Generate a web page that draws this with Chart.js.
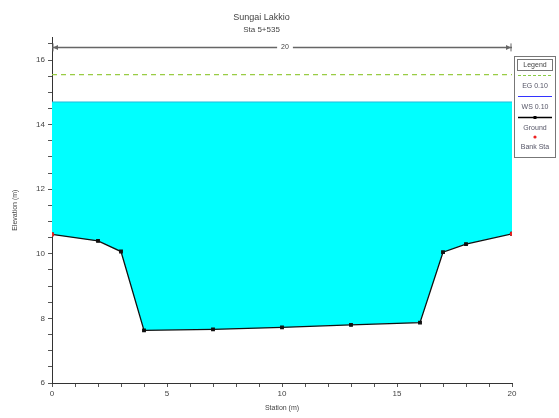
<!DOCTYPE html>
<html>
<head>
<meta charset="utf-8">
<script src="https://cdn.jsdelivr.net/npm/chart.js@4/dist/chart.umd.min.js"></script>
<style>
html,body{margin:0;padding:0;background:#fff;}
#wrap{position:relative;width:559px;height:418px;}
</style>
</head>
<body>
<div id="wrap"><canvas id="c" width="559" height="418"></canvas></div>
<script>
// ---- data ----
const titleText = 'Sungai Lakkio';
const subtitleText = 'Sta 5+535';
const stations = [0, 2, 3, 4, 7, 10, 13, 16, 17, 18, 20];
const groundElev = [10.6, 10.4, 10.07, 7.63, 7.66, 7.72, 7.8, 7.87, 10.05, 10.3, 10.62];
const bankStations = [0, 20];
const wsElev = 14.7;
const egElev = 15.55;
const topWidthLabel = '20';
const yTicks = [6, 8, 10, 12, 14, 16];
const xTicks = [0, 5, 10, 15, 20];
const legendLabels = ['EG 0.10', 'WS 0.10', 'Ground', 'Bank Sta'];

const FONT = 'Liberation Sans, Arial, sans-serif';
const TXT = '#444';

const groundPts = stations.map((x, i) => ({x, y: groundElev[i]}));
const wsPts = stations.map(x => ({x, y: wsElev}));
const egPts = [{x: stations[0], y: egElev}, {x: stations[stations.length - 1], y: egElev}];
const bankPts = bankStations.map(x => ({x, y: groundElev[stations.indexOf(x)]}));

const dimPlugin = {
  id: 'dim',
  afterDatasetsDraw(chart) {
    const {ctx, chartArea, scales: {x}} = chart;
    const x0 = x.getPixelForValue(stations[0]);
    const x1 = x.getPixelForValue(stations[stations.length - 1]);
    const y = chartArea.top + 10;
    ctx.save();
    ctx.strokeStyle = '#666';
    ctx.fillStyle = '#666';
    ctx.lineWidth = 1.5;
    ctx.beginPath(); ctx.moveTo(x0, y); ctx.lineTo(x1, y); ctx.stroke();
    ctx.lineWidth = 1;
    ctx.beginPath(); ctx.moveTo(x0 + 1, y - 4); ctx.lineTo(x0 + 1, y + 4); ctx.stroke();
    ctx.beginPath(); ctx.moveTo(x1 - 1, y - 4); ctx.lineTo(x1 - 1, y + 4); ctx.stroke();
    ctx.beginPath(); ctx.moveTo(x0 + 1, y); ctx.lineTo(x0 + 6, y - 2.5); ctx.lineTo(x0 + 6, y + 2.5); ctx.closePath(); ctx.fill();
    ctx.beginPath(); ctx.moveTo(x1 - 1, y); ctx.lineTo(x1 - 6, y - 2.5); ctx.lineTo(x1 - 6, y + 2.5); ctx.closePath(); ctx.fill();
    const cx = (x0 + x1) / 2 + 3;
    ctx.font = '7px ' + FONT;
    const w = ctx.measureText(topWidthLabel).width + 8;
    ctx.fillStyle = '#fff';
    ctx.fillRect(cx - w / 2, y - 5, w, 10);
    ctx.fillStyle = TXT;
    ctx.textAlign = 'center'; ctx.textBaseline = 'middle';
    ctx.fillText(topWidthLabel, cx, y);
    ctx.restore();
  }
};

const legendPlugin = {
  id: 'sideLegend',
  afterDraw(chart) {
    const ctx = chart.ctx;
    const L = 514, R = 556, T = 56, B = 158;
    const cx = (L + R) / 2;
    ctx.save();
    ctx.fillStyle = '#fff';
    ctx.fillRect(L, T, R - L, B - T);
    ctx.strokeStyle = '#777'; ctx.lineWidth = 1;
    ctx.strokeRect(L + 0.5, T + 0.5, R - L - 1, B - T - 1);
    ctx.strokeRect(L + 3.5, T + 3.5, R - L - 7, 11);
    ctx.font = '7px ' + FONT;
    ctx.textAlign = 'center'; ctx.textBaseline = 'middle';
    ctx.fillStyle = TXT;
    ctx.fillText('Legend', cx, T + 9.5);
    // EG sample
    ctx.strokeStyle = '#88cc44'; ctx.setLineDash([3, 2]);
    ctx.beginPath(); ctx.moveTo(L + 4, 75.5); ctx.lineTo(R - 4, 75.5); ctx.stroke();
    ctx.setLineDash([]);
    ctx.fillStyle = '#556'; ctx.fillText(legendLabels[0], cx, 86);
    // WS sample
    ctx.strokeStyle = '#3333ff';
    ctx.beginPath(); ctx.moveTo(L + 4, 96.5); ctx.lineTo(R - 4, 96.5); ctx.stroke();
    ctx.fillText(legendLabels[1], cx, 107);
    // Ground sample
    ctx.strokeStyle = '#000'; ctx.lineWidth = 1.3;
    ctx.beginPath(); ctx.moveTo(L + 4, 117.5); ctx.lineTo(R - 4, 117.5); ctx.stroke();
    ctx.fillStyle = '#000'; ctx.fillRect(cx - 1.5, 116, 3, 3);
    ctx.fillStyle = '#556'; ctx.fillText(legendLabels[2], cx, 128);
    // Bank sample
    ctx.fillStyle = '#ee2222';
    ctx.beginPath(); ctx.arc(cx, 137, 1.6, 0, Math.PI * 2); ctx.fill();
    ctx.fillStyle = '#556'; ctx.fillText(legendLabels[3], cx, 147);
    ctx.restore();
  }
};

new Chart(document.getElementById('c'), {
  type: 'scatter',
  data: {
    datasets: [
      {label: 'EG 0.10', data: egPts, showLine: true, borderColor: '#99cc44', borderDash: [5, 4], borderWidth: 1.2, pointRadius: 0, order: 3},
      {label: 'WS 0.10', data: wsPts, showLine: true, borderColor: '#22bbdd', borderWidth: 1, pointRadius: 0,
       backgroundColor: '#00ffff', fill: {target: 2, above: '#00ffff', below: '#00ffff'}, order: 4},
      {label: 'Ground', data: groundPts, showLine: true, borderColor: '#111', borderWidth: 1.3,
       pointRadius: 1.8, pointStyle: 'rect', pointBackgroundColor: '#111', pointBorderColor: '#111', order: 2},
      {label: 'Bank Sta', data: bankPts, showLine: false, pointRadius: 1.8, pointBackgroundColor: '#ee2222', pointBorderColor: '#ee2222', order: 1}
    ]
  },
  options: {
    responsive: false,
    animation: false,
    layout: {padding: {left: 11, right: 47, top: 0, bottom: 0}},
    plugins: {
      legend: {display: false},
      tooltip: {enabled: false},
      title: {display: true, text: titleText, color: TXT, font: {family: FONT, size: 9, weight: 'normal'}, padding: {top: 12.5, bottom: 1.5}},
      subtitle: {display: true, text: subtitleText, color: TXT, font: {family: FONT, size: 8, weight: 'normal'}, padding: {top: 0, bottom: 3}}
    },
    scales: {
      x: {
        type: 'linear', min: 0, max: 20,
        afterBuildTicks: s => { s.ticks = []; for (let v = 0; v <= 20; v++) s.ticks.push({value: v}); },
        afterFit: s => { s.height = 35; },
        ticks: {autoSkip: false, maxRotation: 0, padding: 2, color: TXT, font: {family: FONT, size: 8},
          callback: v => xTicks.includes(v) ? String(v) : ''},
        grid: {drawOnChartArea: false, tickLength: 4, color: '#555'},
        border: {color: '#333', width: 1},
        title: {display: true, text: 'Station (m)', color: TXT, font: {family: FONT, size: 7}, padding: {top: 2, bottom: 6}}
      },
      y: {
        type: 'linear', min: 6, max: 16.7,
        afterBuildTicks: s => { s.ticks = []; for (let v = 6; v <= 16.5; v += 0.5) s.ticks.push({value: v}); },
        afterFit: s => { s.width = 41; },
        ticks: {autoSkip: false, padding: 3, color: TXT, font: {family: FONT, size: 8},
          callback: v => yTicks.includes(v) ? String(v) : ''},
        grid: {drawOnChartArea: false, tickLength: 4, color: '#555'},
        border: {color: '#333', width: 1},
        title: {display: true, text: 'Elevation (m)', color: TXT, font: {family: FONT, size: 7}, padding: {top: 0, bottom: 12}}
      }
    }
  },
  plugins: [dimPlugin, legendPlugin]
});
</script>
</body>
</html>
